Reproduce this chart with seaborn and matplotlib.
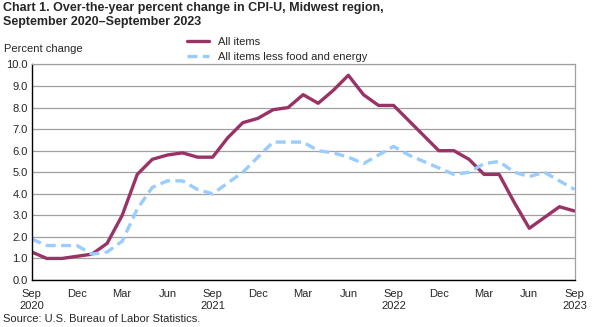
import matplotlib
matplotlib.use("Agg")
import matplotlib.pyplot as plt
import seaborn as sns
import pandas as pd
import numpy as np
from matplotlib.lines import Line2D

months = pd.date_range("2020-09-01", "2023-09-01", freq="MS")

all_items = [1.3, 1.0, 1.0, 1.1, 1.2, 1.7, 3.0, 4.9, 5.6, 5.8, 5.9, 5.7, 5.7,
             6.6, 7.3, 7.5, 7.9, 8.0, 8.6, 8.2, 8.8, 9.5, 8.6, 8.1, 8.1,
             7.4, 6.7, 6.0, 6.0, 5.6, 4.9, 4.9, 3.6, 2.4, 2.9, 3.4, 3.2]
core = [1.9, 1.6, 1.6, 1.6, 1.2, 1.3, 1.8, 3.3, 4.3, 4.6, 4.6, 4.2, 4.0,
        4.5, 5.0, 5.7, 6.4, 6.4, 6.4, 6.0, 5.9, 5.7, 5.4, 5.8, 6.2,
        5.8, 5.5, 5.2, 4.9, 5.0, 5.4, 5.5, 5.0, 4.8, 5.0, 4.6, 4.2]

series_names = ["All items", "All items less food and energy"]
month_labels = ["Sep\n2020", "Dec", "Mar", "Jun", "Sep\n2021", "Dec", "Mar",
                "Jun", "Sep\n2022", "Dec", "Mar", "Jun", "Sep\n2023"]

df = pd.DataFrame({
    "idx": list(range(len(months))) * 2,
    "value": all_items + core,
    "series": [series_names[0]] * len(months) + [series_names[1]] * len(months),
})

sns.set_style("white")
plt.rcParams["font.family"] = ["Liberation Sans", "DejaVu Sans"]

fig = plt.figure(figsize=(5.96, 3.27), dpi=100)
ax = fig.add_axes([0.0532, 0.1437, 0.9108, 0.6591])

palette = {series_names[0]: "#993366", series_names[1]: "#99CCFF"}
sns.lineplot(data=df, x="idx", y="value", hue="series", style="series",
             palette=palette, dashes={series_names[0]: "", series_names[1]: (3, 1.6)},
             linewidth=2.4, ax=ax, legend=False)

ax.set_xlim(0, len(months) - 1)
ax.set_ylim(0, 10)
ax.set_yticks(np.arange(0, 10.01, 1))
ax.set_yticklabels([f"{v:.1f}" for v in np.arange(0, 10.01, 1)], fontsize=8)
ax.yaxis.grid(True, color="#a0a0a0", linewidth=0.9)
ax.set_axisbelow(True)
ax.tick_params(axis="y", length=0, pad=3)

ax.set_xticks(np.arange(0, len(months), 3))
ax.set_xticklabels(month_labels, fontsize=8, linespacing=1.3)
ax.set_xticks(np.arange(0, len(months)), minor=True)
ax.tick_params(axis="x", which="both", direction="inout", length=7, width=0.9,
               color="black", pad=3)
ax.set_xlabel("")
ax.set_ylabel("")

for side in ["left", "bottom"]:
    ax.spines[side].set_color("black")
    ax.spines[side].set_linewidth(1.0)
for side in ["top", "right"]:
    ax.spines[side].set_visible(True)
    ax.spines[side].set_color("#a0a0a0")
    ax.spines[side].set_linewidth(0.9)

fig.text(0.005, 0.993, "Chart 1. Over-the-year percent change in CPI-U, Midwest region,\nSeptember 2020\u2013September 2023",
         ha="left", va="top", fontsize=9.0, fontweight="bold", linespacing=1.15)
fig.text(0.007, 1 - 49 / 327, "Percent change", ha="left", va="center", fontsize=8)
fig.text(0.005, 1 - 319 / 327, "Source: U.S. Bureau of Labor Statistics.",
         ha="left", va="center", fontsize=8)

handles = [Line2D([], [], color="#993366", linewidth=2.4),
           Line2D([], [], color="#99CCFF", linewidth=2.4, dashes=(3, 1.6))]
fig.legend(handles, series_names, loc="upper left",
           bbox_to_anchor=(186 / 596, 1 - 36 / 327), frameon=False, fontsize=8,
           handlelength=2.0, handletextpad=0.8, labelspacing=0.45,
           borderpad=0.1, borderaxespad=0)

fig.savefig("out.png", dpi=100)
